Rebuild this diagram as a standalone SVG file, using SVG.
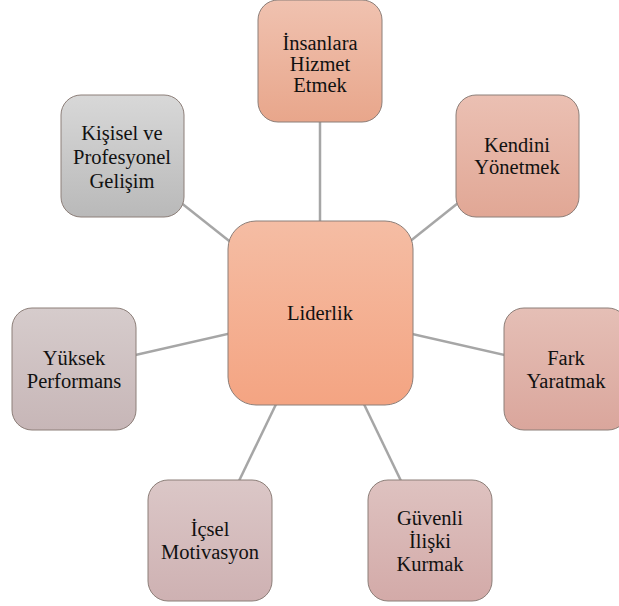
<svg xmlns="http://www.w3.org/2000/svg" width="619" height="606" viewBox="0 0 619 606">
<defs>
<linearGradient id="gC" x1="0" y1="0" x2="0" y2="1"><stop offset="0" stop-color="#F5BDA4"/><stop offset="1" stop-color="#F4A482"/></linearGradient>
<linearGradient id="g1" x1="0" y1="0" x2="0" y2="1"><stop offset="0" stop-color="#F0C2B0"/><stop offset="1" stop-color="#E8A68B"/></linearGradient>
<linearGradient id="g2" x1="0" y1="0" x2="0" y2="1"><stop offset="0" stop-color="#EBC0B3"/><stop offset="1" stop-color="#E1A795"/></linearGradient>
<linearGradient id="g3" x1="0" y1="0" x2="0" y2="1"><stop offset="0" stop-color="#E5BFB6"/><stop offset="1" stop-color="#DAA69C"/></linearGradient>
<linearGradient id="g4" x1="0" y1="0" x2="0" y2="1"><stop offset="0" stop-color="#DEC2C0"/><stop offset="1" stop-color="#D3AAA8"/></linearGradient>
<linearGradient id="g5" x1="0" y1="0" x2="0" y2="1"><stop offset="0" stop-color="#DBC7C7"/><stop offset="1" stop-color="#CEB1B2"/></linearGradient>
<linearGradient id="g6" x1="0" y1="0" x2="0" y2="1"><stop offset="0" stop-color="#D6CCCC"/><stop offset="1" stop-color="#C7B6B7"/></linearGradient>
<linearGradient id="g7" x1="0" y1="0" x2="0" y2="1"><stop offset="0" stop-color="#D8D8D8"/><stop offset="1" stop-color="#B9B9B9"/></linearGradient>
</defs>
<style>
.box{stroke:#8C7E78;stroke-width:1}
.t{font-family:'Times New Roman','Liberation Serif','DejaVu Serif',serif;font-size:20.5px;fill:#111;text-anchor:middle}
.c{stroke:#A6A6A6;stroke-width:2.5;fill:none}
</style>
<rect width="619" height="606" fill="#FFFFFF"/>
<g id="connectors">
<line class="c" x1="320" y1="313" x2="320" y2="61"/>
<line class="c" x1="320" y1="313" x2="517" y2="156"/>
<line class="c" x1="320" y1="313" x2="566" y2="369"/>
<line class="c" x1="320" y1="313" x2="430" y2="541"/>
<line class="c" x1="320" y1="313" x2="210" y2="541"/>
<line class="c" x1="320" y1="313" x2="74" y2="369"/>
<line class="c" x1="320" y1="313" x2="122" y2="156"/>
</g>
<g id="n-insanlara">
<rect class="box" x="258" y="0" width="124" height="122" rx="20" fill="url(#g1)"/>
<text class="t" x="320" y="50">İnsanlara</text>
<text class="t" x="320" y="71">Hizmet</text>
<text class="t" x="320" y="92">Etmek</text>
</g>
<g id="n-kendini">
<rect class="box" x="456" y="95" width="123" height="122" rx="20" fill="url(#g2)"/>
<text class="t" x="517" y="152">Kendini</text>
<text class="t" x="517" y="174">Yönetmek</text>
</g>
<g id="n-fark">
<rect class="box" x="504" y="308" width="124" height="122" rx="20" fill="url(#g3)"/>
<text class="t" x="566" y="365">Fark</text>
<text class="t" x="566" y="388">Yaratmak</text>
</g>
<g id="n-guvenli">
<rect class="box" x="368" y="480" width="124" height="121" rx="20" fill="url(#g4)"/>
<text class="t" x="430" y="525">Güvenli</text>
<text class="t" x="430" y="548">İlişki</text>
<text class="t" x="430" y="571">Kurmak</text>
</g>
<g id="n-icsel">
<rect class="box" x="148" y="480" width="124" height="121" rx="20" fill="url(#g5)"/>
<text class="t" x="210" y="536">İçsel</text>
<text class="t" x="210" y="559">Motivasyon</text>
</g>
<g id="n-yuksek">
<rect class="box" x="12" y="308" width="124" height="122" rx="20" fill="url(#g6)"/>
<text class="t" x="74" y="365">Yüksek</text>
<text class="t" x="74" y="388">Performans</text>
</g>
<g id="n-kisisel">
<rect class="box" x="61" y="95" width="123" height="122" rx="20" fill="url(#g7)"/>
<text class="t" x="122" y="140">Kişisel ve</text>
<text class="t" x="122" y="164">Profesyonel</text>
<text class="t" x="122" y="188">Gelişim</text>
</g>
<g id="n-liderlik">
<rect class="box" x="228" y="221" width="185" height="184" rx="28" fill="url(#gC)"/>
<text class="t" x="320" y="320">Liderlik</text>
</g>
</svg>
